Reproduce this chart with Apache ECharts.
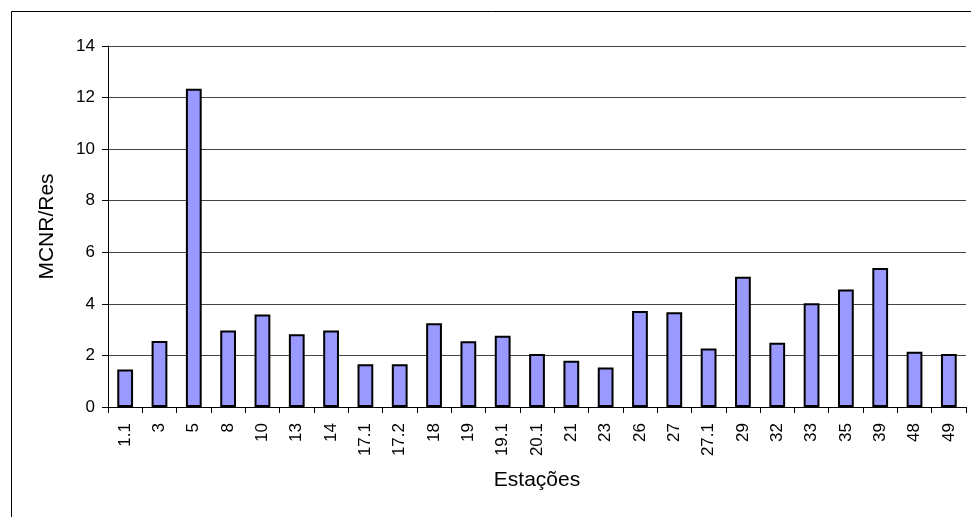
<!DOCTYPE html>
<html>
<head>
<meta charset="utf-8">
<script src="https://cdn.jsdelivr.net/npm/echarts@6/dist/echarts.min.js"></script>
<style>
html, body { margin: 0; padding: 0; background: #fff; }
#chart { width: 971px; height: 517px; }
</style>
</head>
<body>
<div id="chart"></div>
<script>
// estações e valores MCNR/Res
var estacoes = ['1.1', '3', '5', '8', '10', '13', '14', '17.1', '17.2', '18', '19', '19.1', '20.1',
	'21', '23', '26', '27', '27.1', '29', '32', '33', '35', '39', '48', '49'];
var mcnrRes = [1.45, 2.56, 12.34, 2.97, 3.59, 2.82, 2.97, 1.66, 1.66, 3.25, 2.55, 2.76, 2.06,
	1.79, 1.53, 3.72, 3.67, 2.27, 5.05, 2.49, 4.02, 4.56, 5.39, 2.14, 2.06];
var yMin = 0, yMax = 14, yStep = 2;

var myChart = echarts.init(document.getElementById('chart'));
var fonte = 'Liberation Sans, Arial, sans-serif';

var option = {
	backgroundColor: '#ffffff',
	animation: false,
	// moldura externa do gráfico
	graphic: [{
		type: 'rect',
		shape: { x: 11.5, y: 11.5, width: 1000, height: 600 },
		style: { fill: 'none', stroke: '#000', lineWidth: 1 },
		silent: true
	}],
	grid: {
		left: 108,
		right: 5,
		top: 46,
		bottom: 110
	},
	xAxis: {
		type: 'category',
		data: estacoes,
		name: 'Estações',
		nameLocation: 'middle',
		nameGap: 63,
		nameTextStyle: { fontFamily: fonte, fontSize: 21, color: '#000' },
		axisLine: { lineStyle: { color: '#000', width: 1 } },
		axisTick: { show: true, length: 6, lineStyle: { color: '#000' } },
		axisLabel: {
			rotate: 90,
			interval: 0,
			margin: 16,
			fontFamily: fonte,
			fontSize: 17,
			color: '#000'
		},
		splitLine: { show: false }
	},
	yAxis: {
		type: 'value',
		min: yMin,
		max: yMax,
		interval: yStep,
		name: 'MCNR/Res',
		nameLocation: 'middle',
		nameGap: 50,
		nameTextStyle: { fontFamily: fonte, fontSize: 21, color: '#000' },
		axisLine: { show: true, lineStyle: { color: '#000', width: 1 } },
		axisTick: { show: true, length: 6, lineStyle: { color: '#000' } },
		axisLabel: { margin: 13, fontFamily: fonte, fontSize: 17, color: '#000' },
		splitLine: { show: true, lineStyle: { color: '#444', width: 1 } }
	},
	series: [{
		name: 'MCNR/Res',
		type: 'bar',
		data: mcnrRes,
		barWidth: '46%',
		itemStyle: {
			color: '#9999ff',
			borderColor: '#000',
			borderWidth: 2
		}
	}]
};
myChart.setOption(option);
</script>
</body>
</html>
